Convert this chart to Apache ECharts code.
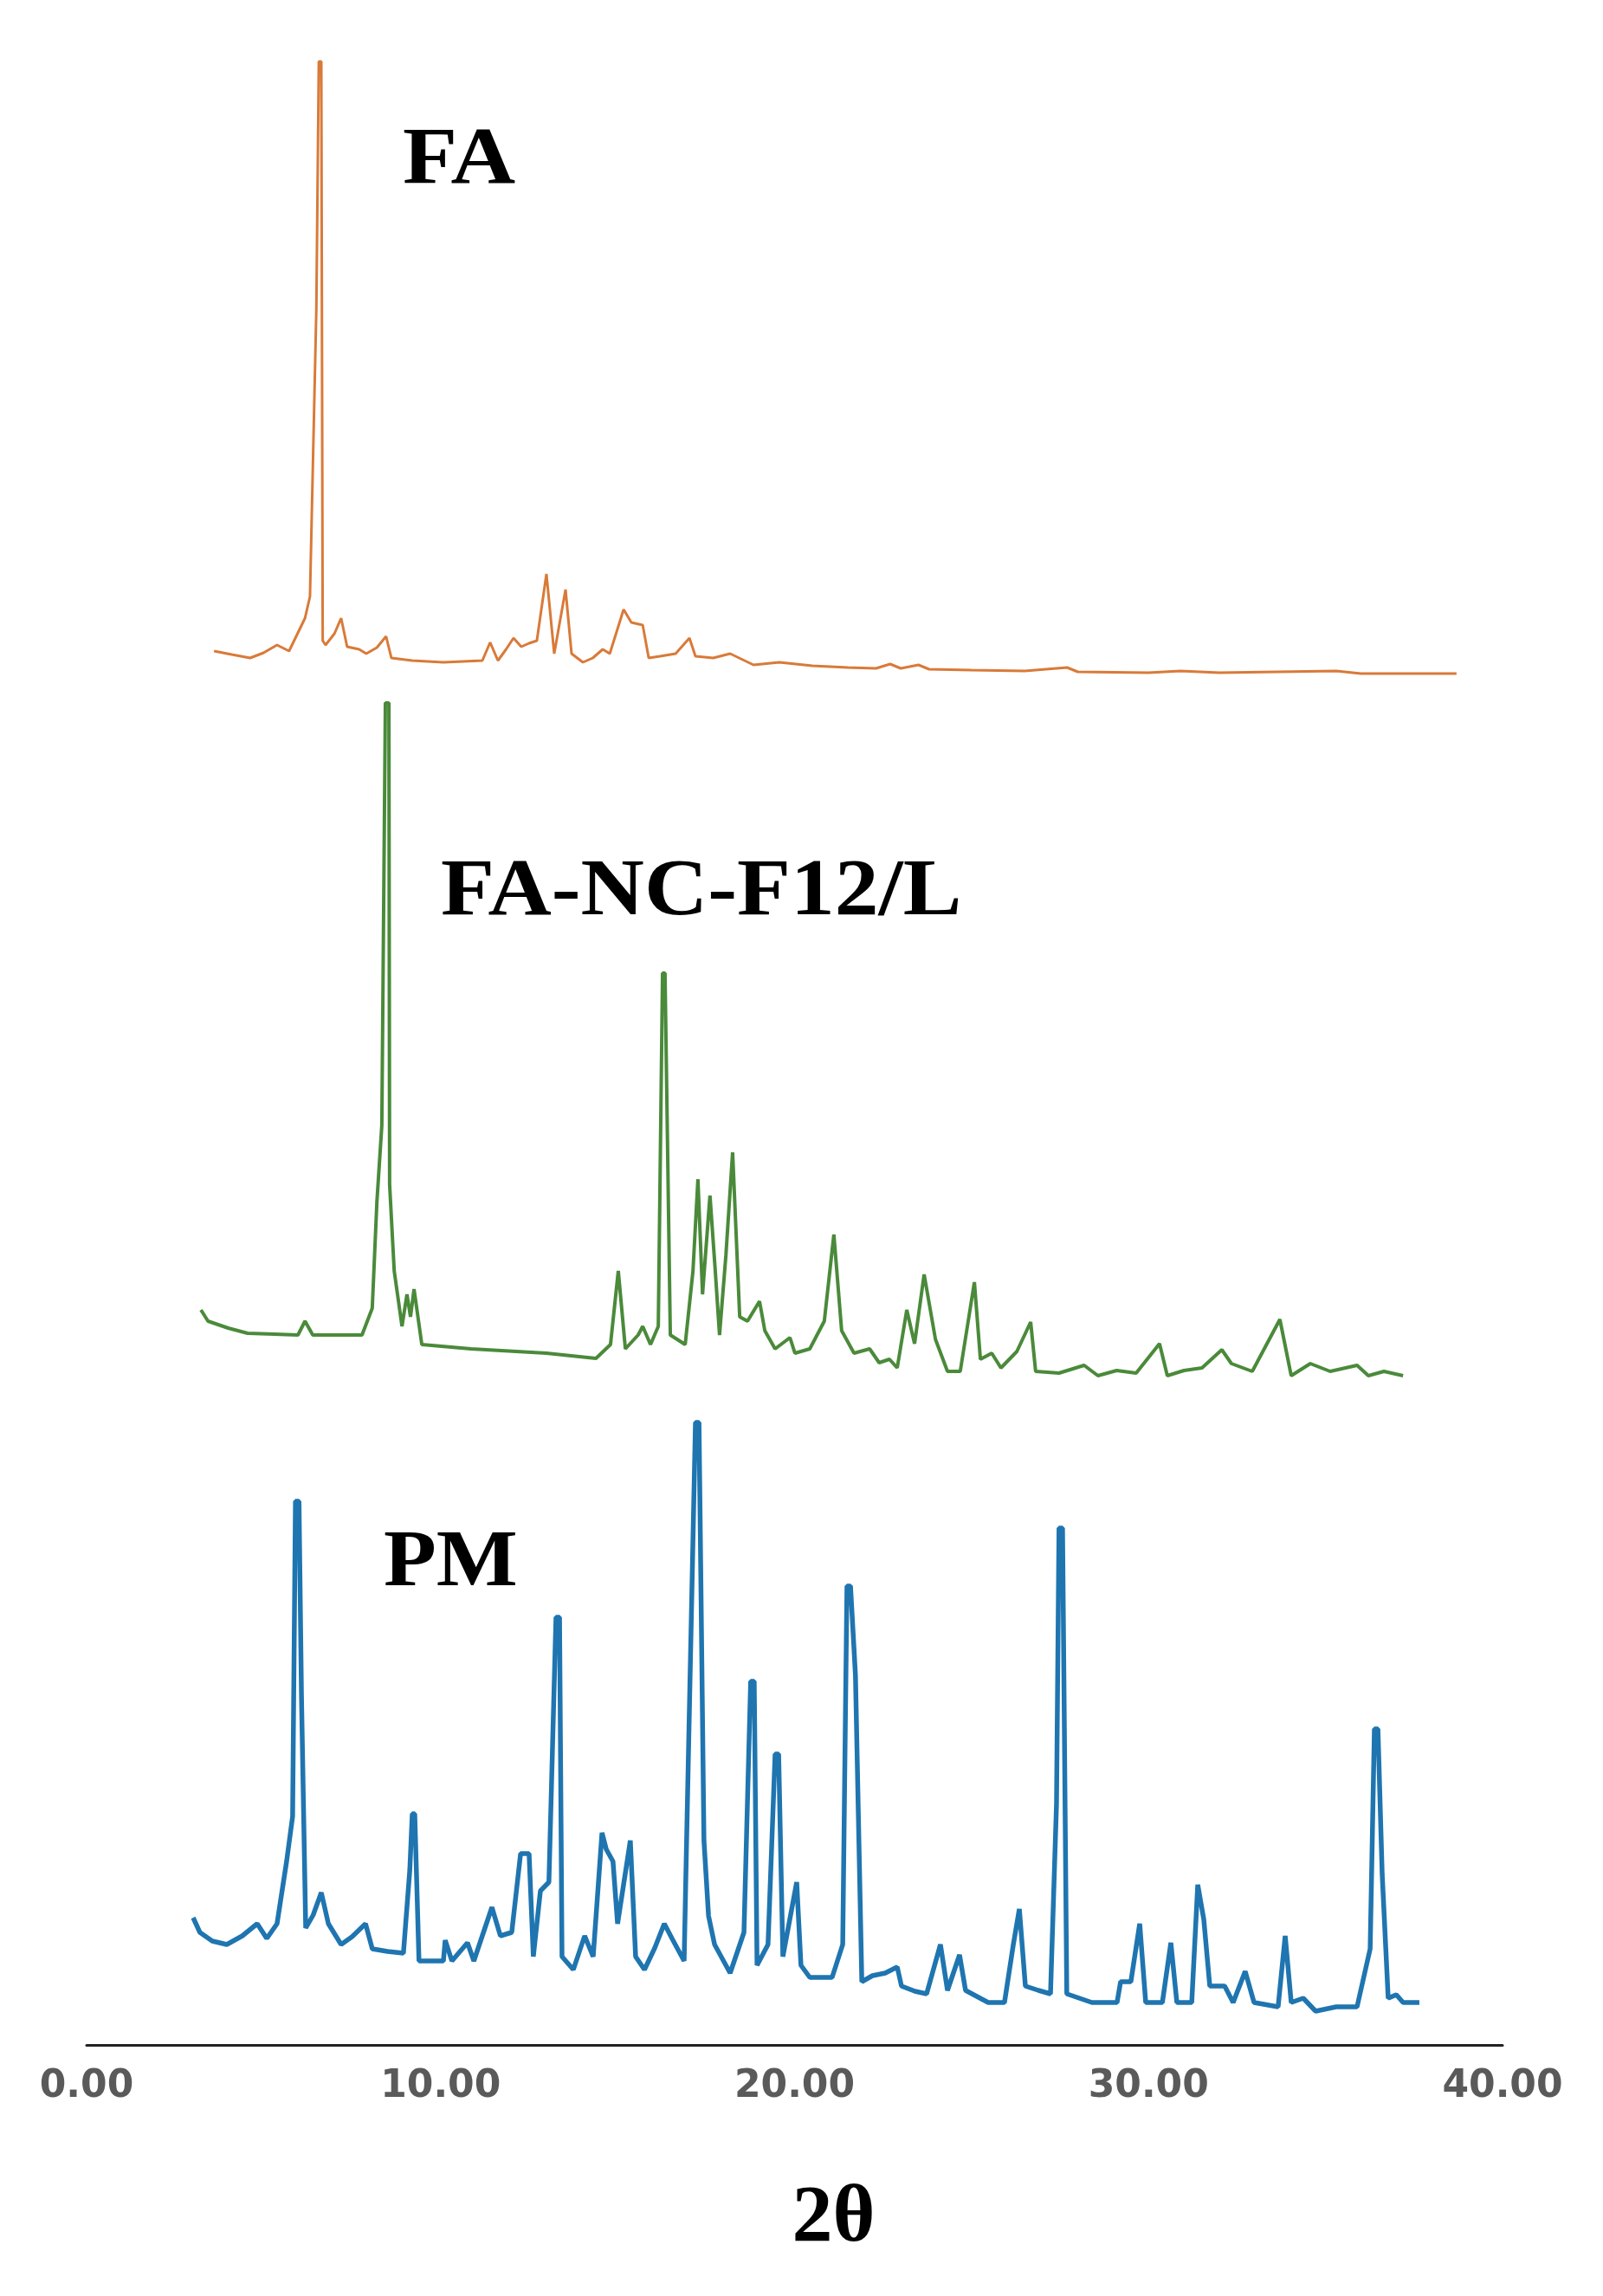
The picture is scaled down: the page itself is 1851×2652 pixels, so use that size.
<!DOCTYPE html>
<html>
<head>
<meta charset="utf-8">
<script src="https://cdn.jsdelivr.net/npm/echarts@6/dist/echarts.min.js"></script>
<style>
html,body{margin:0;padding:0;background:#fff;}
#chart{width:1851px;height:2652px;}
</style>
</head>
<body>
<div id="chart"></div>
<script>
// ---- Data (2θ in degrees, intensity in arbitrary units) ----
const xTicks = [0, 10, 20, 30, 40];

const faAngle = [3.60,4.10,4.62,5.00,5.38,5.72,6.17,6.31,6.49,6.56,6.63,6.67,6.75,7.00,7.19,7.36,7.70,7.90,8.20,8.46,8.61,9.20,10.08,11.18,11.40,11.62,11.85,12.06,12.28,12.50,12.72,12.99,13.21,13.53,13.70,14.02,14.30,14.58,14.78,15.17,15.39,15.71,15.88,16.20,16.64,17.03,17.20,17.70,18.18,18.84,19.57,20.5,21.5,22.3,22.7,23.0,23.5,23.8,25.0,26.5,27.7,28.0,30.0,30.9,32.0,35.3,36.0,38.7];
const faIntensity = [38,34,30,36,45,38,76,101,433,719,719,50,45,58,76,43,40,35,42,55,30,27,25,27,48,27,40,53,43,47,50,127,35,109,35,25,30,40,35,86,71,68,30,32,35,53,32,30,35,22,25,21,19,18,23,18,22,17,16,15,19,14,13,15,13,15,12,12];

const ncAngle = [3.23,3.43,4.00,4.55,5.30,5.97,6.17,6.39,7.10,7.78,8.07,8.20,8.34,8.44,8.54,8.56,8.69,8.91,9.05,9.15,9.25,9.47,10.86,12.99,14.39,14.80,15.02,15.22,15.58,15.71,15.93,16.15,16.27,16.34,16.49,16.91,17.13,17.27,17.40,17.61,17.76,17.88,18.06,18.25,18.45,18.67,19.01,19.16,19.45,19.87,20.01,20.43,20.84,21.11,21.33,21.68,22.12,22.39,22.68,22.90,23.17,23.39,23.66,23.98,24.32,24.68,25.08,25.25,25.57,25.83,26.28,26.67,26.81,27.47,28.18,28.57,29.10,29.65,30.31,30.53,31.00,31.51,32.07,32.34,32.93,33.71,34.03,34.57,35.13,35.89,36.21,36.65,37.19];
const ncIntensity = [97,84,76,70,69,68,84,68,68,68,99,221,310,798,798,242,142,78,115,89,121,57,52,47,41,57,142,52,68,78,57,78,486,486,68,57,142,248,115,229,142,68,160,279,89,84,107,73,52,65,47,52,84,184,73,47,52,36,40,30,97,58,138,63,26,26,129,40,47,30,49,83,26,24,33,21,27,24,58,21,27,30,51,35,26,86,21,35,26,33,21,26,21];

const pmAngle = [3.01,3.20,3.55,3.96,4.40,4.82,5.09,5.38,5.65,5.82,5.90,6.00,6.07,6.19,6.40,6.63,6.83,7.19,7.50,7.88,8.07,8.50,8.95,9.13,9.20,9.27,9.39,10.08,10.13,10.32,10.76,10.94,11.45,11.69,12.01,12.26,12.50,12.62,12.82,13.06,13.26,13.36,13.43,13.75,14.07,14.31,14.56,14.68,14.87,15.00,15.36,15.51,15.76,16.05,16.32,16.55,16.88,16.93,17.20,17.30,17.44,17.57,17.74,18.18,18.57,18.76,18.86,18.94,19.25,19.45,19.55,19.67,20.06,20.18,20.43,21.06,21.36,21.48,21.58,21.72,21.90,22.20,22.56,22.90,23.02,23.40,23.73,24.12,24.32,24.66,24.83,25.47,25.93,26.18,26.35,26.52,26.89,27.23,27.40,27.47,27.57,27.69,28.40,29.11,29.21,29.50,29.75,29.92,30.39,30.63,30.80,31.22,31.39,31.56,31.73,32.15,32.39,32.73,32.98,33.66,33.86,34.03,34.37,34.72,35.30,35.89,36.26,36.38,36.48,36.60,36.77,37.00,37.19,37.65];
const pmIntensity = [147,130,120,116,126,140,123,140,212,264,628,628,403,135,150,176,140,116,125,140,111,108,106,202,267,267,97,97,121,97,118,97,159,126,130,221,221,102,178,188,494,494,102,87,126,102,245,226,212,140,236,102,87,112,140,122,97,197,719,719,236,149,116,83,130,420,420,92,116,336,336,102,188,92,78,78,116,530,530,427,73,80,83,90,68,62,59,116,63,104,63,49,49,116,157,68,63,59,279,597,597,59,49,49,73,73,140,49,49,118,49,49,185,145,68,68,49,85,49,44,126,49,54,39,44,44,111,365,365,197,54,58,49,49];

const seriesNames = ['FA', 'FA-NC-F12/L', 'PM'];

// ---- Build chart ----
function zip(a, b) { return a.map((v, i) => [v, b[i]]); }

const chart = echarts.init(document.getElementById('chart'), null, {renderer: 'canvas'});

const gridLeft = 100, gridRight = 116;
const faMax = 760, ncMax = 820, pmMax = 740;

const hiddenX = (gi) => ({
  type: 'value', gridIndex: gi, min: xTicks[0], max: xTicks[xTicks.length - 1], interval: 10, show: false
});
const hiddenY = (gi, mx) => ({
  type: 'value', gridIndex: gi, min: 0, max: mx, show: false
});

const option = {
  backgroundColor: '#ffffff',
  animation: false,
  grid: [
    {left: gridLeft, right: gridRight, top: 790 - faMax, height: faMax},
    {left: gridLeft, right: gridRight, top: 1610 - ncMax, height: ncMax},
    {left: gridLeft, right: gridRight, top: 2362 - pmMax, height: pmMax}
  ],
  xAxis: [
    hiddenX(0),
    hiddenX(1),
    {
      type: 'value', gridIndex: 2, min: xTicks[0], max: xTicks[xTicks.length - 1], interval: 10,
      axisLine: {show: true, onZero: false, lineStyle: {color: '#222222', width: 3}},
      axisTick: {show: false},
      splitLine: {show: false},
      axisLabel: {
        margin: 27,
        color: '#5a5a5a',
        fontFamily: 'DejaVu Sans',
        fontWeight: 'bold',
        fontSize: 44,
        formatter: (v) => v.toFixed(2)
      },
      name: '2θ',
      nameLocation: 'middle',
      nameGap: 155,
      nameTextStyle: {
        fontFamily: 'Liberation Serif',
        fontWeight: 'bold',
        fontSize: 94,
        color: '#000000',
        padding: [0, 0, 0, 90]
      }
    }
  ],
  yAxis: [hiddenY(0, faMax), hiddenY(1, ncMax), hiddenY(2, pmMax)],
  series: [
    {
      name: seriesNames[0], type: 'line', xAxisIndex: 0, yAxisIndex: 0,
      data: zip(faAngle, faIntensity), showSymbol: false, smooth: false,
      lineStyle: {color: '#D97A38', width: 3, join: 'bevel'}
    },
    {
      name: seriesNames[1], type: 'line', xAxisIndex: 1, yAxisIndex: 1,
      data: zip(ncAngle, ncIntensity), showSymbol: false, smooth: false,
      lineStyle: {color: '#4A8A3A', width: 4, join: 'bevel'}
    },
    {
      name: seriesNames[2], type: 'line', xAxisIndex: 2, yAxisIndex: 2,
      data: zip(pmAngle, pmIntensity), showSymbol: false, smooth: false,
      lineStyle: {color: '#1F75B0', width: 5.5, join: 'bevel'}
    }
  ],
  graphic: [
    {type: 'text', left: 465, top: 140, scaleX: 1.1, style: {text: seriesNames[0], font: 'bold 94px "Liberation Serif"', fill: '#000'}},
    {type: 'text', left: 509, top: 985, scaleX: 1.08, style: {text: seriesNames[1], font: 'bold 94px "Liberation Serif"', fill: '#000'}},
    {type: 'text', left: 443, top: 1760, scaleX: 1.06, style: {text: seriesNames[2], font: 'bold 94px "Liberation Serif"', fill: '#000'}}
  ]
};

chart.setOption(option);
</script>
</body>
</html>
